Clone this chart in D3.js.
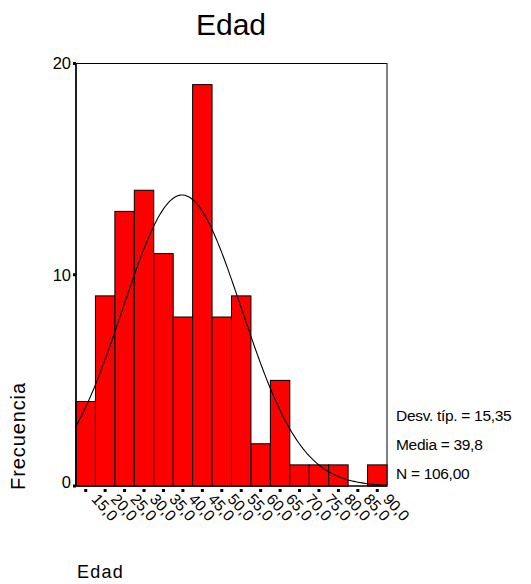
<!DOCTYPE html>
<html><head><meta charset="utf-8">
<script src="https://cdn.jsdelivr.net/npm/d3@7"></script>
<style>
html,body{margin:0;padding:0;background:#fff;}
svg{display:block;font-family:"Liberation Sans",Arial,sans-serif;}
</style></head>
<body>
<svg id="c" width="531" height="584"></svg>
<script>
// Data
const binCenters = [15,20,25,30,35,40,45,50,55,60,65,70,75,80,85,90];
const counts     = [4, 9, 13, 14, 11, 8, 19, 8, 9, 2, 5, 1, 1, 1, 0, 1];
const tickLabels = ["15,0","20,0","25,0","30,0","35,0","40,0","45,0","50,0","55,0","60,0","65,0","70,0","75,0","80,0","85,0","90,0"];
const yTicks = [0, 10, 20];
const statsLabels = ["Desv. típ. = 15,35", "Media = 39,8", "N = 106,00"];
const stdDev = 15.35, mean = 39.8, nCases = 106, binWidth = 5;

const svg = d3.select("#c");
const L = 76, R = 387, T = 63.5, B = 486;
const x = d3.scaleLinear().domain([12.5, 92.5]).range([L, R]);
const y = d3.scaleLinear().domain([0, 20]).range([B, T]);

// title
svg.append("text").attr("x", 231).attr("y", 35).attr("text-anchor", "middle")
  .attr("font-size", 30).text("Edad");

// frame
svg.append("rect").attr("x", L).attr("y", T).attr("width", R - L).attr("height", B - T)
  .attr("fill", "none").attr("stroke", "#000").attr("stroke-width", 1);

// bars
svg.append("g").selectAll("rect").data(binCenters).join("rect")
  .attr("x", (d) => x(d - binWidth / 2))
  .attr("width", (d) => x(d + binWidth / 2) - x(d - binWidth / 2))
  .attr("y", (d, i) => y(counts[i]))
  .attr("height", (d, i) => y(0) - y(counts[i]))
  .attr("fill", (d, i) => counts[i] > 0 ? "#ff0000" : "none")
  .attr("stroke", (d, i) => counts[i] > 0 ? "#000" : "none")
  .attr("stroke-width", 1);

// axis lines
svg.append("line").attr("x1", L).attr("x2", L).attr("y1", T).attr("y2", B)
  .attr("stroke", "#000").attr("stroke-width", 1.5);
svg.append("line").attr("x1", L).attr("x2", R).attr("y1", B).attr("y2", B)
  .attr("stroke", "#000").attr("stroke-width", 1);

// normal curve
const pts = d3.range(12.5, 92.51, 0.5).map(v => [v,
  nCases * binWidth / (stdDev * Math.sqrt(2 * Math.PI)) * Math.exp(-0.5 * Math.pow((v - mean) / stdDev, 2))]);
svg.append("path").datum(pts)
  .attr("d", d3.line().x(d => x(d[0])).y(d => y(d[1])))
  .attr("fill", "none").attr("stroke", "#000").attr("stroke-width", 1.1);

// y ticks
const yg = svg.append("g");
yTicks.forEach(t => {
  yg.append("rect").attr("x", L - 3).attr("y", y(t) - 1.5).attr("width", 3).attr("height", 3).attr("fill", "#000");
  yg.append("text").attr("x", L - 5).attr("y", y(t)).attr("dy", t === 0 ? "0.15em" : "0.35em")
    .attr("text-anchor", "end").attr("font-size", 16.5).text(t);
});

// x ticks
const xg = svg.append("g");
binCenters.forEach((c, i) => {
  xg.append("rect").attr("x", x(c) - 1.5).attr("y", B + 3).attr("width", 3).attr("height", 3).attr("fill", "#000");
  xg.append("text").attr("transform", `translate(${x(c) + 9},${B + 10}) rotate(48)`)
    .attr("font-size", 15.5).attr("text-anchor", "start").attr("dy", "0.35em").text(tickLabels[i]);
});

// stats
statsLabels.forEach((s, i) => {
  svg.append("text").attr("x", 396).attr("y", 421 + i * 29).attr("font-size", 15.5)
    .attr("letter-spacing", -0.3).text(s);
});

// axis titles
svg.append("text").attr("transform", "translate(25,436) rotate(-90)")
  .attr("text-anchor", "middle").attr("font-size", 20).attr("letter-spacing", 0.9).text("Frecuencia");
svg.append("text").attr("x", 77).attr("y", 578).attr("font-size", 18)
  .attr("letter-spacing", 1.2).text("Edad");
</script>
</body></html>
